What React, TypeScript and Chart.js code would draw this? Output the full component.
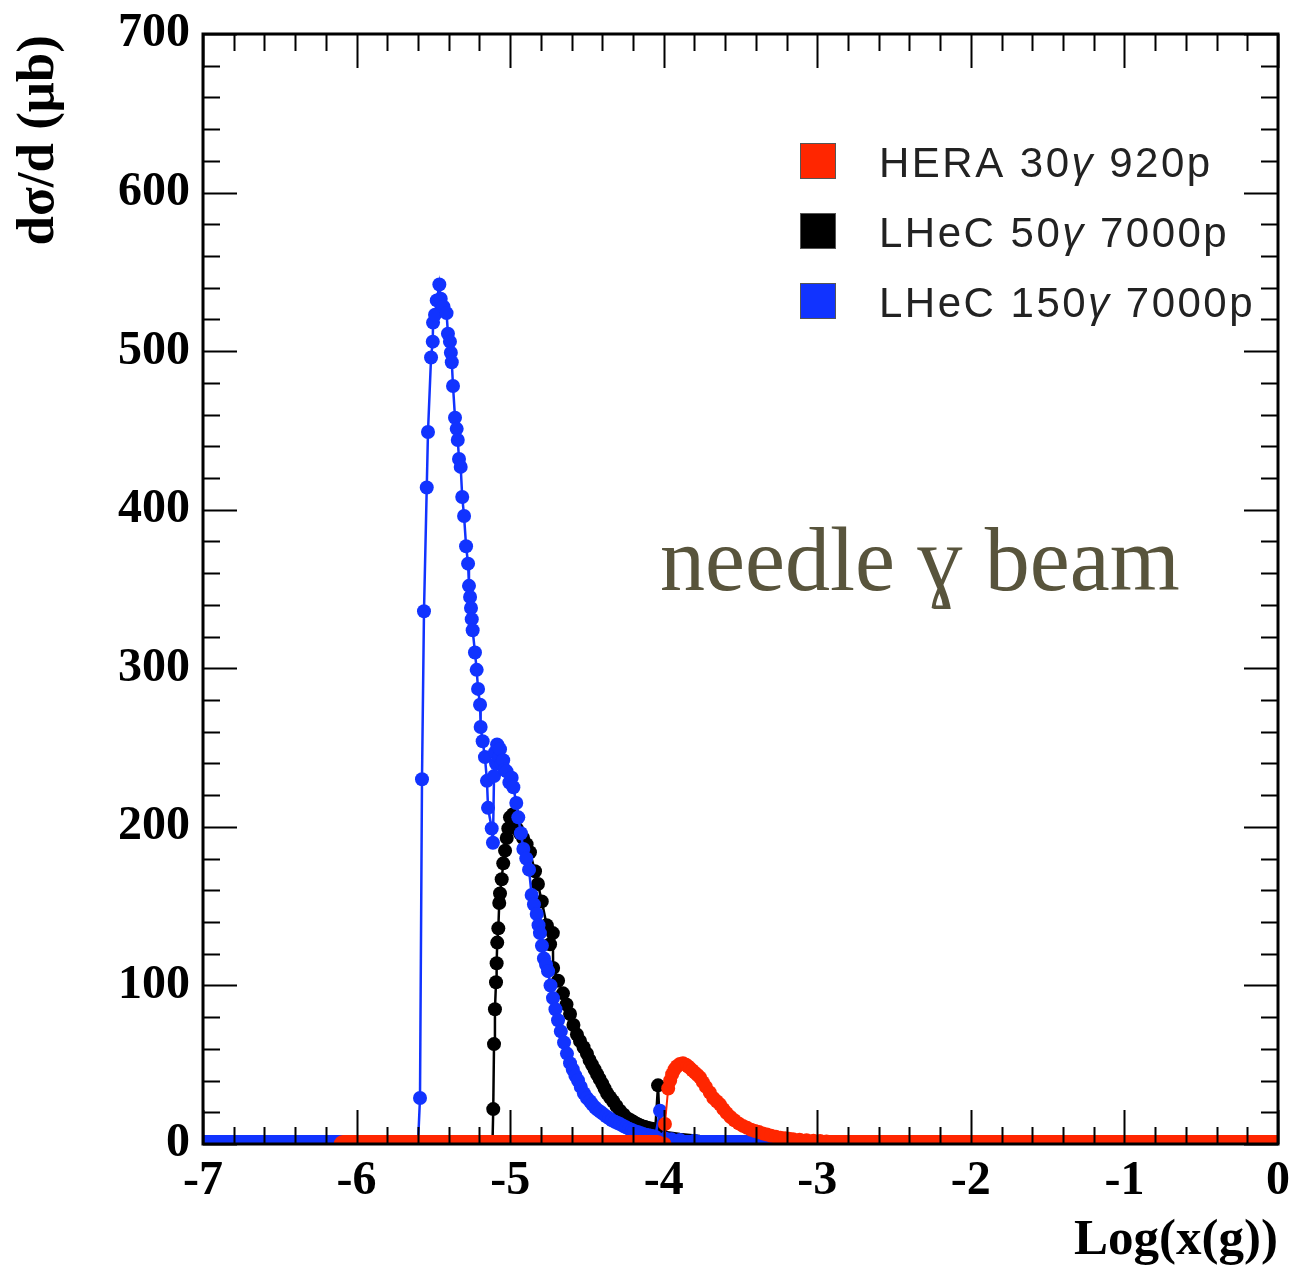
import React, { useEffect, useRef } from "react";
import { Chart, registerables } from "chart.js";

Chart.register(...registerables);

// ---------------- data ----------------
const blueX = [-5.600, -5.587, -5.574, -5.561, -5.543, -5.535, -5.515, -5.504, -5.502, -5.489, -5.478, -5.461, -5.452, -5.434, -5.414, -5.405, -5.392, -5.386, -5.380, -5.372, -5.359, -5.348, -5.341, -5.333, -5.322, -5.312, -5.300, -5.287, -5.274, -5.268, -5.261, -5.255, -5.250, -5.244, -5.229, -5.218, -5.209, -5.196, -5.192, -5.179, -5.164, -5.151, -5.144, -5.120, -5.112, -5.105, -5.099, -5.092, -5.085, -5.079, -5.072, -5.066, -5.055, -5.045, -5.035, -5.023, -5.005, -4.990, -4.979, -4.960, -4.947, -4.930, -4.914, -4.895, -4.877, -4.860, -4.845, -4.827, -4.815, -4.806, -4.793, -4.780, -4.766, -4.753, -4.737, -4.721, -4.705, -4.688, -4.670, -4.649, -4.630, -4.610, -4.592, -4.575, -4.558, -4.540, -4.520, -4.500, -4.480, -4.465, -4.447, -4.430, -4.413, -4.395, -4.375, -4.355, -4.337, -4.318, -4.300, -4.285, -4.265, -4.245, -4.226, -4.207, -4.190, -4.170, -4.152, -4.135, -4.118, -4.100, -4.085, -4.070, -4.055, -4.024, -3.990, -3.950, -3.894, -3.800, -3.633, -3.450, -3.308];
const blueY = [0, 29, 230, 336, 414, 449, 496, 506, 518, 523, 532, 542, 533, 528, 524, 511, 506, 499, 493, 478, 458, 451, 444, 432, 427, 408, 396, 377, 366, 352, 345, 338, 331, 324, 310, 299, 287, 277, 263, 254, 244, 229, 212, 199, 190, 232, 247, 240, 252, 251, 244, 249, 240, 242, 236, 235, 228, 231, 225, 215, 206, 196, 186, 180, 173, 157, 151, 145, 138, 133, 125, 117, 113, 109, 100, 92, 85, 78, 71, 64, 57, 51, 47, 43, 40, 36, 32, 29, 27, 25, 23, 21.5, 20.3, 19, 17.5, 16.2, 15, 14, 13.2, 12.6, 11.5, 10.5, 9.6, 8.8, 8.1, 7.5, 6.9, 6.3, 5.9, 5.5, 5.2, 4.9, 4.6, 21, 3.4, 3.0, 2.5, 2.0, 1.3, 0.9, 0.6];

const blackX = [-5.115, -5.110, -5.105, -5.099, -5.092, -5.088, -5.084, -5.077, -5.071, -5.066, -5.055, -5.045, -5.033, -5.022, -5.012, -5.001, -4.981, -4.957, -4.936, -4.916, -4.893, -4.871, -4.838, -4.819, -4.794, -4.762, -4.740, -4.722, -4.720, -4.688, -4.656, -4.633, -4.610, -4.588, -4.565, -4.545, -4.522, -4.500, -4.483, -4.467, -4.450, -4.434, -4.417, -4.400, -4.385, -4.369, -4.350, -4.330, -4.308, -4.285, -4.260, -4.233, -4.215, -4.200, -4.187, -4.174, -4.160, -4.150, -4.135, -4.122, -4.110, -4.100, -4.085, -4.070, -4.055, -4.037, -4.024];
const blackY = [0, 22, 63, 85, 102, 114, 127, 136, 152, 158, 167, 177, 185, 193, 199, 206, 208, 199, 196, 193, 189, 184, 172, 164, 153, 138, 126, 133, 111, 103, 95, 88, 82, 75, 69, 65, 61, 57, 53, 50, 47, 44, 41, 38, 35, 32, 29.5, 27, 24, 21, 18.5, 16, 15, 14, 13.2, 12.6, 12, 11.5, 11, 10.7, 10.3, 10, 9.7, 9.5, 9.2, 37, 8];
const blackTailX = [-4.024, -3.894, -3.764, -3.633, -3.503, -3.308, -3.112, -2.900];
const blackTailY = [8, 6.3, 5, 4.4, 2.5, 1.3, 0.6, 0];

const redX = [-3.995, -3.992, -3.971, -3.958, -3.945, -3.930, -3.914, -3.895, -3.875, -3.855, -3.843, -3.830, -3.814, -3.797, -3.780, -3.764, -3.745, -3.725, -3.700, -3.677, -3.655, -3.634, -3.612, -3.590, -3.565, -3.540, -3.512, -3.484, -3.457, -3.430, -3.405, -3.380, -3.355, -3.328, -3.300, -3.270, -3.240, -3.210, -3.185, -3.158, -3.115, -3.070, -3.025, -2.982, -2.940, -2.900, -2.845, -2.787, -2.720, -2.650];
const redY = [0, 12.6, 35, 40, 44, 47, 49, 50.5, 51, 50, 49, 48, 46.5, 45, 43.5, 42, 39, 36, 32.5, 29, 27, 25, 22, 19.5, 17, 15, 13, 11.4, 10.2, 9, 8.2, 7.5, 6.7, 6, 5.2, 4.5, 4, 3.6, 3.3, 3, 2.7, 2.4, 2.1, 1.9, 1.6, 1.3, 1, 0.8, 0.6, 0.4];

// zero-valued stretches drawn as dense marker bands
const redBandX = [-6.09, -4.04, null, -2.95, 0];
const blueBandX = [-7, -5.60, null, -4.02, 0];

const xTicks = [-7, -6, -5, -4, -3, -2, -1, 0];
const yTicks = [0, 100, 200, 300, 400, 500, 600, 700];
const xMinorStep = 0.2;
const yMinorStep = 20;

const legendLabels = [
  ["HERA 30", "γ", " 920p"],
  ["LHeC 50", "γ", " 7000p"],
  ["LHeC 150", "γ", " 7000p"],
];
const xTitle = "Log(x(g))";
const yTitle = "dσ/d (μb)";
const note = "needle ɣ beam";

const RED = "#ff2600";
const BLACK = "#000000";
const BLUE = "#1133ff";
const legendColors = [RED, BLACK, BLUE];

function pts(xs: number[], ys: number[]) {
  return xs.map((x, i) => ({ x, y: ys[i] }));
}
function band(xs: (number | null)[]) {
  return xs.map((x) => (x === null ? { x: NaN, y: null } : { x, y: 0 }));
}

const decorPlugin = {
  id: "decor",
  afterDatasetsDraw(chart: any) {
    const { ctx, chartArea, scales } = chart;
    const { left, right, top, bottom } = chartArea;
    const xs = scales.x;
    const ys = scales.y;
    ctx.save();
    ctx.strokeStyle = "#000";
    ctx.lineWidth = 2;
    const major = 34;
    const minor = 17;
    const nx = Math.round((xs.max - xs.min) / xMinorStep);
    for (let i = 0; i <= nx; i++) {
      const v = xs.min + i * xMinorStep;
      const isMajor = Math.abs(v - Math.round(v)) < 1e-6;
      const len = isMajor ? major : minor;
      const px = Math.round(xs.getPixelForValue(v)) + 0.5;
      ctx.beginPath();
      ctx.moveTo(px, bottom);
      ctx.lineTo(px, bottom - len);
      ctx.moveTo(px, top);
      ctx.lineTo(px, top + len);
      ctx.stroke();
    }
    const ny = Math.round((ys.max - ys.min) / yMinorStep);
    for (let i = 0; i <= ny; i++) {
      const v = ys.min + i * yMinorStep;
      const isMajor = v % 100 === 0;
      const len = isMajor ? major : minor;
      const py = Math.round(ys.getPixelForValue(v)) + 0.5;
      ctx.beginPath();
      ctx.moveTo(left, py);
      ctx.lineTo(left + len, py);
      ctx.moveTo(right, py);
      ctx.lineTo(right - len, py);
      ctx.stroke();
    }
    ctx.lineWidth = 3;
    ctx.strokeRect(left, top, right - left, bottom - top);
    ctx.restore();
  },
  afterDraw(chart: any) {
    const { ctx, chartArea } = chart;
    ctx.save();
    ctx.fillStyle = "#000";
    ctx.font = 'bold 51px "Liberation Serif", "Times New Roman", serif';
    ctx.textAlign = "right";
    ctx.textBaseline = "alphabetic";
    ctx.fillText(xTitle, chartArea.right, 1254);
    ctx.save();
    ctx.font = 'bold 53px "Liberation Serif", "Times New Roman", serif';
    ctx.translate(53, 35);
    ctx.rotate(-Math.PI / 2);
    ctx.textAlign = "right";
    ctx.fillText(yTitle, 0, 0);
    ctx.restore();

    // legend
    const boxX = 800;
    const boxTops = [143, 213, 283];
    const textX = 879;
    legendLabels.forEach((parts, i) => {
      const y0 = boxTops[i];
      ctx.fillStyle = legendColors[i];
      ctx.fillRect(boxX, y0, 36, 36);
      ctx.strokeStyle = "#555";
      ctx.lineWidth = 1;
      ctx.strokeRect(boxX + 0.5, y0 + 0.5, 35, 35);
      ctx.fillStyle = "#222";
      ctx.textAlign = "left";
      (ctx as any).letterSpacing = "2.5px";
      let x = textX;
      const base = y0 + 34;
      parts.forEach((p, k) => {
        ctx.font = (k === 1 ? "italic " : "") + '42px "Liberation Sans", Arial, sans-serif';
        ctx.fillText(p, x, base);
        x += ctx.measureText(p).width;
      });
      (ctx as any).letterSpacing = "0px";
    });

    ctx.fillStyle = "#58543c";
    ctx.font = '90px "Liberation Serif", "DejaVu Serif", serif';
    ctx.textAlign = "left";
    ctx.fillText(note, 660, 590);
    ctx.restore();
  },
};

export default function App() {
  const ref = useRef<HTMLCanvasElement | null>(null);
  useEffect(() => {
    if (!ref.current) return;
    const tickFont = { family: '"Liberation Serif", "Times New Roman", serif', size: 48, weight: "bold" as const };
    const common = { showLine: true, tension: 0, clip: 0, pointBorderWidth: 0, pointHoverRadius: 7 };
    const chart = new Chart(ref.current, {
      type: "scatter",
      data: {
        datasets: [
          { ...common, label: "HERA 30γ 920p", data: pts(redX, redY), borderColor: RED, backgroundColor: RED, borderWidth: 2, pointRadius: 7, order: 1 },
          { ...common, label: "red zero", data: band(redBandX), borderColor: RED, backgroundColor: RED, borderWidth: 18, pointRadius: 0, borderCapStyle: "round", spanGaps: false, order: 2 },
          { ...common, label: "LHeC 150γ 7000p", data: pts(blueX, blueY), borderColor: BLUE, backgroundColor: BLUE, borderWidth: 2.5, pointRadius: 7, order: 3 },
          { ...common, label: "blue zero", data: band(blueBandX), borderColor: BLUE, backgroundColor: BLUE, borderWidth: 18, pointRadius: 0, borderCapStyle: "round", spanGaps: false, order: 4 },
          { ...common, label: "LHeC 50γ 7000p", data: pts(blackX, blackY), borderColor: BLACK, backgroundColor: BLACK, borderWidth: 2.5, pointRadius: 7, order: 5 },
          { ...common, label: "black tail", data: pts(blackTailX, blackTailY), borderColor: BLACK, backgroundColor: BLACK, borderWidth: 2.5, pointRadius: 0, order: 6 },
        ] as any,
      },
      options: {
        animation: false,
        responsive: false,
        events: [],
        layout: { autoPadding: false, padding: { left: 0, right: 17, top: 34, bottom: 0 } },
        plugins: { legend: { display: false }, tooltip: { enabled: false } },
        scales: {
          x: {
            type: "linear",
            min: -7,
            max: 0,
            afterFit: (s: any) => { s.height = 124; s.paddingLeft = 0; s.paddingRight = 0; s.paddingTop = 0; s.paddingBottom = 0; },
            grid: { display: false, drawTicks: false },
            border: { display: false },
            afterBuildTicks: (s: any) => { s.ticks = xTicks.map((v) => ({ value: v })); },
            ticks: { padding: 9, font: tickFont, color: "#000", maxRotation: 0, autoSkip: false, callback: (v: any) => String(v) },
          },
          y: {
            type: "linear",
            min: 0,
            max: 700,
            afterFit: (s: any) => { s.width = 203; s.paddingLeft = 0; s.paddingRight = 0; s.paddingTop = 0; s.paddingBottom = 0; },
            grid: { display: false, drawTicks: false },
            border: { display: false },
            afterBuildTicks: (s: any) => { s.ticks = yTicks.map((v) => ({ value: v })); },
            ticks: { padding: 13, font: tickFont, color: "#000", autoSkip: false, callback: (v: any) => String(v) },
          },
        },
      },
      plugins: [decorPlugin],
    } as any);
    return () => chart.destroy();
  }, []);
  return (
    <div style={{ position: "fixed", left: 0, top: 0, width: 1295, height: 1268, background: "#fff" }}>
      <canvas ref={ref} width={1295} height={1268} style={{ display: "block" }} />
    </div>
  );
}
